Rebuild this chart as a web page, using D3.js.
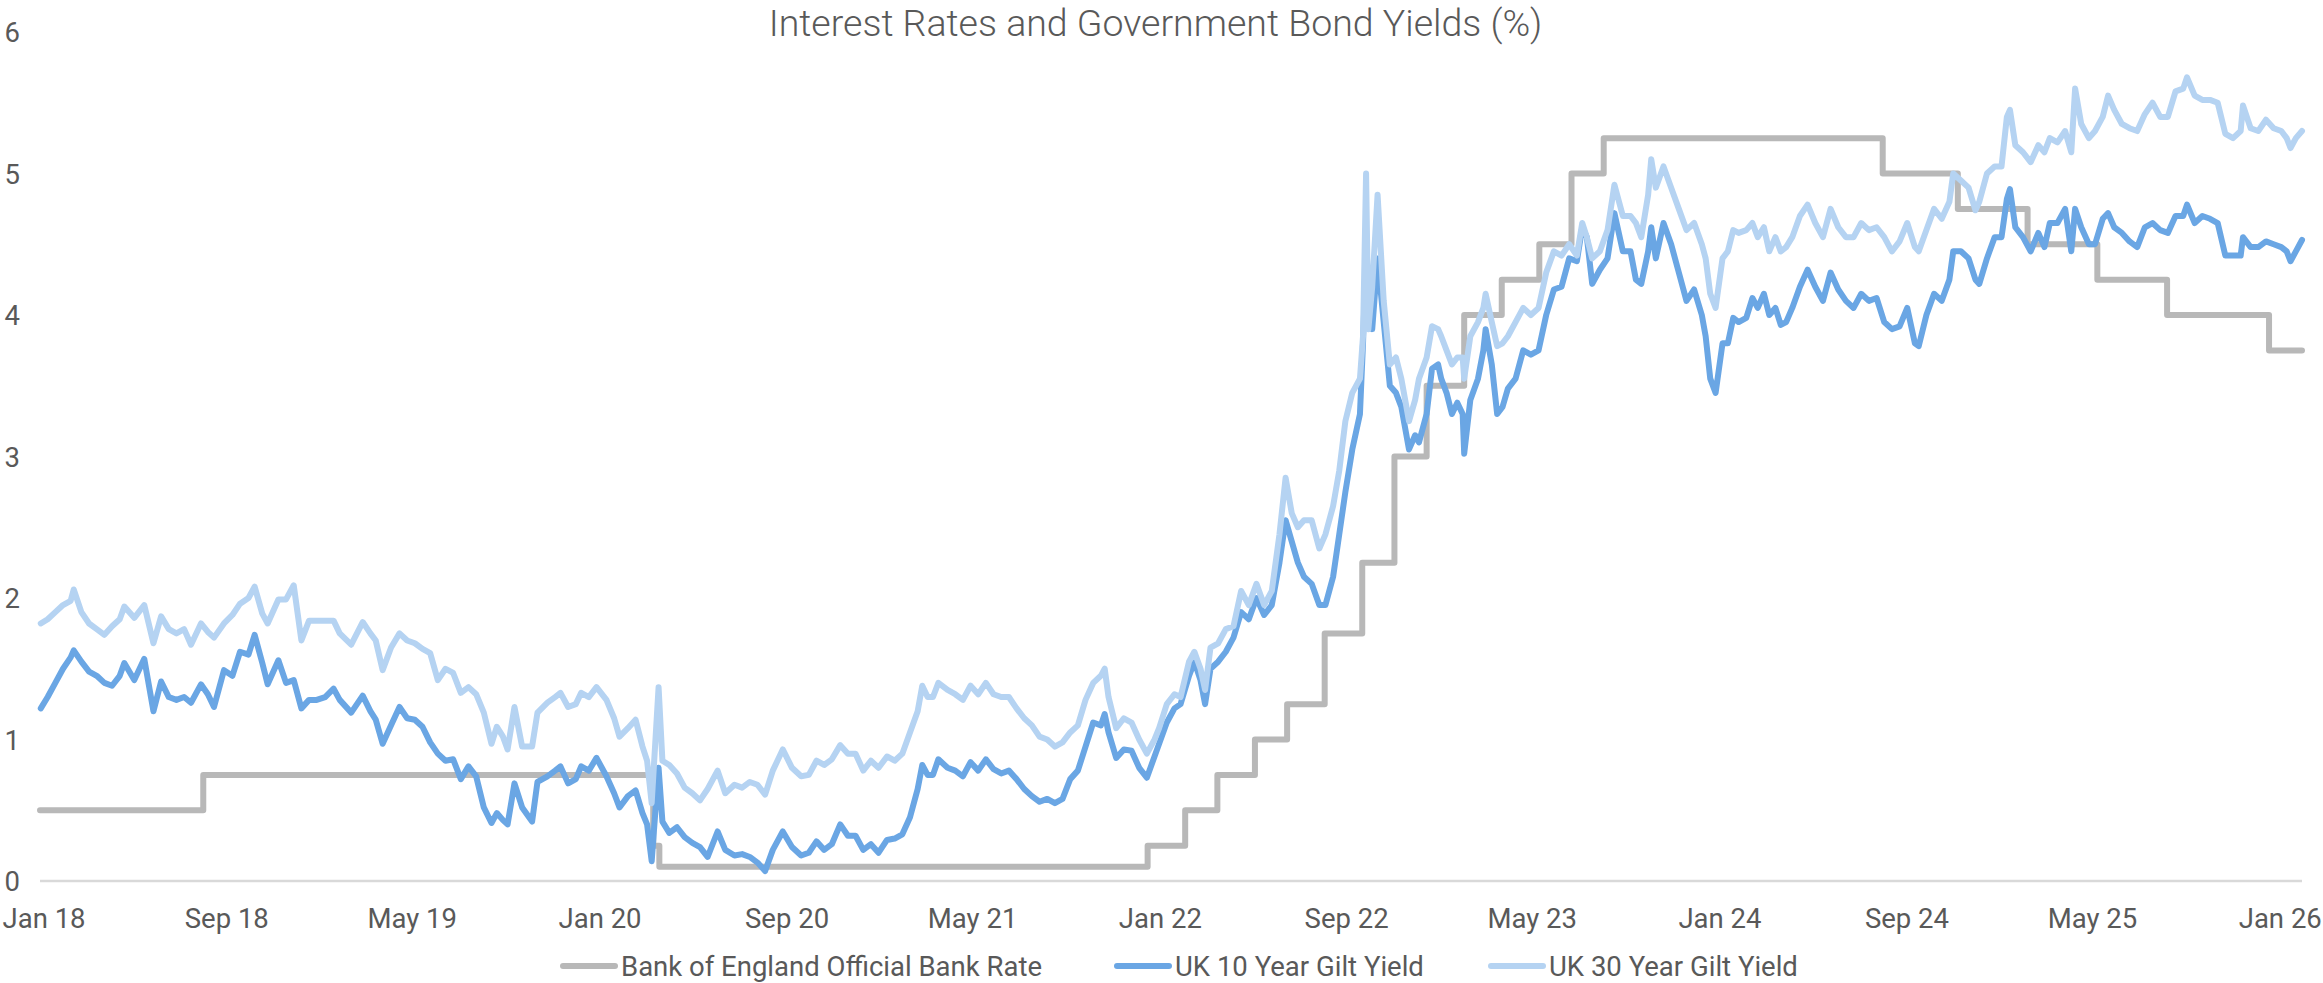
<!DOCTYPE html>
<html><head><meta charset="utf-8">
<script src="https://cdn.jsdelivr.net/npm/d3@7"></script>
<style>
html,body{margin:0;padding:0;background:#fff;}
svg{display:block;font-family:Roboto,"Liberation Sans",sans-serif;}
</style></head><body>
<svg id="chart" width="2323" height="983"></svg>
<script>
const chartTitle = "Interest Rates and Government Bond Yields (%)";
const seriesNames = ["Bank of England Official Bank Rate", "UK 10 Year Gilt Yield", "UK 30 Year Gilt Yield"];
const seriesColors = ["#b8b8b8", "#6aa6e4", "#b5d3f2"];
const xTickDates = ["2018-01-01","2018-09-01","2019-05-01","2020-01-01","2020-09-01","2021-05-01","2022-01-01","2022-09-01","2023-05-01","2024-01-01","2024-09-01","2025-05-01","2026-01-01"];
const yTicks = [0,1,2,3,4,5,6];

const bankRateDates = ["2018-01-01","2018-08-02","2020-03-11","2020-03-19","2021-12-16","2022-02-03","2022-03-17","2022-05-05","2022-06-16","2022-08-04","2022-09-22","2022-11-03","2022-12-15","2023-02-02","2023-03-23","2023-05-11","2023-06-22","2023-08-03","2024-08-01","2024-11-07","2025-02-06","2025-05-08","2025-08-07","2025-12-18","2026-01-30"];
const bankRateValues = [0.5,0.75,0.25,0.1,0.25,0.5,0.75,1.0,1.25,1.75,2.25,3.0,3.5,4.0,4.25,4.5,5.0,5.25,5.0,4.75,4.5,4.25,4.0,3.75,3.75];

const giltDates = [
"2018-01-02","2018-01-11","2018-01-21","2018-01-31","2018-02-10","2018-02-14","2018-02-24","2018-03-06","2018-03-16","2018-03-26","2018-04-05","2018-04-15","2018-04-21","2018-05-04","2018-05-17","2018-05-29","2018-06-08","2018-06-18","2018-06-28","2018-07-08","2018-07-17","2018-07-30","2018-08-08","2018-08-16","2018-08-29","2018-09-09","2018-09-19","2018-09-30","2018-10-08","2018-10-18","2018-10-25","2018-11-08","2018-11-18","2018-11-28","2018-12-08","2018-12-18","2018-12-28",
"2019-01-08","2019-01-19","2019-01-27","2019-02-11","2019-02-26","2019-03-08","2019-03-15","2019-03-24","2019-04-04","2019-04-15","2019-04-25","2019-05-05","2019-05-15","2019-05-25","2019-06-04","2019-06-14","2019-06-24","2019-07-04","2019-07-14","2019-07-24","2019-08-03","2019-08-13","2019-08-20","2019-08-28","2019-09-03","2019-09-12","2019-09-22","2019-10-05","2019-10-12","2019-10-25","2019-11-04","2019-11-11","2019-11-21","2019-12-01","2019-12-08","2019-12-18","2019-12-28",
"2020-01-10","2020-01-20","2020-01-27","2020-02-07","2020-02-17","2020-02-26","2020-03-03","2020-03-09","2020-03-18","2020-03-23","2020-04-01","2020-04-11","2020-04-21","2020-05-01","2020-05-11","2020-05-21","2020-06-03","2020-06-13","2020-06-25","2020-07-05","2020-07-15","2020-07-25","2020-08-04","2020-08-14","2020-08-27","2020-09-08","2020-09-20","2020-09-30","2020-10-10","2020-10-20","2020-10-30","2020-11-10","2020-11-20","2020-11-30","2020-12-10","2020-12-20","2020-12-30",
"2021-01-10","2021-01-20","2021-01-30","2021-02-09","2021-02-19","2021-02-25","2021-03-04","2021-03-11","2021-03-18","2021-03-30","2021-04-09","2021-04-19","2021-04-29","2021-05-09","2021-05-19","2021-05-29","2021-06-08","2021-06-18","2021-06-28","2021-07-08","2021-07-18","2021-07-28","2021-08-07","2021-08-17","2021-08-27","2021-09-06","2021-09-16","2021-09-26","2021-10-06","2021-10-16","2021-10-21","2021-10-26","2021-11-05","2021-11-15","2021-11-25","2021-12-05","2021-12-15","2021-12-25","2021-12-31",
"2022-01-10","2022-01-20","2022-01-28","2022-02-08","2022-02-15","2022-02-23","2022-03-01","2022-03-08","2022-03-18","2022-03-28","2022-04-07","2022-04-17","2022-04-27","2022-05-07","2022-05-17","2022-05-27","2022-06-06","2022-06-14","2022-06-22","2022-06-30","2022-07-08","2022-07-18","2022-07-28","2022-08-05","2022-08-15","2022-08-23","2022-08-31","2022-09-09","2022-09-19","2022-09-23","2022-09-27","2022-09-30","2022-10-05","2022-10-12","2022-10-20","2022-10-28","2022-11-05","2022-11-12","2022-11-22","2022-11-30","2022-12-05","2022-12-15","2022-12-22","2022-12-30",
"2023-01-03","2023-01-10","2023-01-17","2023-01-24","2023-01-31","2023-02-02","2023-02-10","2023-02-20","2023-02-27","2023-03-02","2023-03-10","2023-03-17","2023-03-24","2023-03-31","2023-04-10","2023-04-20","2023-04-30","2023-05-10","2023-05-20","2023-05-30","2023-06-09","2023-06-19","2023-06-29","2023-07-06","2023-07-12","2023-07-19","2023-07-29","2023-08-08","2023-08-17","2023-08-28","2023-09-07","2023-09-14","2023-09-21","2023-09-30","2023-10-04","2023-10-10","2023-10-20","2023-10-30","2023-11-09","2023-11-19","2023-11-29","2023-12-09","2023-12-14","2023-12-20","2023-12-27",
"2024-01-05","2024-01-12","2024-01-19","2024-01-26","2024-02-05","2024-02-13","2024-02-20","2024-02-28","2024-03-06","2024-03-14","2024-03-21","2024-03-28","2024-04-05","2024-04-15","2024-04-25","2024-05-05","2024-05-15","2024-05-25","2024-06-04","2024-06-14","2024-06-24","2024-07-04","2024-07-14","2024-07-24","2024-08-03","2024-08-13","2024-08-23","2024-09-02","2024-09-12","2024-09-17","2024-09-27","2024-10-07","2024-10-17","2024-10-27","2024-11-01","2024-11-11","2024-11-21","2024-11-30","2024-12-05","2024-12-15","2024-12-25",
"2025-01-03","2025-01-10","2025-01-14","2025-01-21","2025-01-31","2025-02-10","2025-02-20","2025-02-28","2025-03-07","2025-03-17","2025-03-27","2025-04-04","2025-04-09","2025-04-17","2025-04-27","2025-05-05","2025-05-15","2025-05-22","2025-05-30","2025-06-09","2025-06-19","2025-06-29","2025-07-09","2025-07-19","2025-07-29","2025-08-08","2025-08-18","2025-08-28","2025-09-02","2025-09-12","2025-09-22","2025-10-02","2025-10-12","2025-10-22","2025-11-01","2025-11-11","2025-11-14","2025-11-24","2025-12-04","2025-12-14","2025-12-24","2026-01-03","2026-01-10","2026-01-15","2026-01-22","2026-01-30"
];

const gilt10 = [
1.22,1.30,1.40,1.50,1.58,1.63,1.55,1.48,1.45,1.40,1.38,1.45,1.54,1.42,1.57,1.20,1.41,1.30,1.28,1.30,1.26,1.39,1.32,1.23,1.49,1.45,1.62,1.60,1.74,1.54,1.39,1.56,1.40,1.42,1.22,1.28,1.28,
1.30,1.36,1.28,1.19,1.31,1.20,1.14,0.97,1.10,1.23,1.15,1.14,1.09,0.98,0.90,0.85,0.86,0.72,0.81,0.74,0.52,0.41,0.48,0.43,0.40,0.69,0.52,0.42,0.70,0.74,0.78,0.81,0.69,0.72,0.81,0.78,0.87,
0.74,0.62,0.52,0.60,0.64,0.48,0.40,0.14,0.80,0.42,0.34,0.38,0.31,0.27,0.24,0.17,0.35,0.22,0.18,0.19,0.17,0.13,0.07,0.22,0.35,0.24,0.18,0.20,0.28,0.22,0.26,0.40,0.32,0.32,0.22,0.26,0.20,
0.29,0.30,0.33,0.45,0.65,0.82,0.75,0.75,0.86,0.80,0.78,0.74,0.84,0.78,0.86,0.79,0.76,0.78,0.72,0.65,0.60,0.56,0.58,0.55,0.58,0.72,0.78,0.95,1.12,1.10,1.18,1.05,0.87,0.93,0.92,0.80,0.73,0.88,0.97,
1.12,1.22,1.25,1.45,1.55,1.42,1.25,1.50,1.55,1.62,1.72,1.90,1.85,2.00,1.88,1.95,2.25,2.55,2.40,2.25,2.15,2.10,1.95,1.95,2.15,2.45,2.75,3.05,3.30,3.80,4.45,4.10,3.90,4.40,3.95,3.50,3.45,3.35,3.05,3.15,3.10,3.30,3.62,3.65,
3.55,3.45,3.30,3.38,3.30,3.02,3.40,3.55,3.75,3.90,3.65,3.30,3.35,3.48,3.55,3.75,3.72,3.75,4.00,4.18,4.20,4.40,4.38,4.62,4.55,4.22,4.32,4.40,4.72,4.45,4.45,4.25,4.22,4.45,4.62,4.40,4.65,4.50,4.30,4.10,4.18,4.00,3.85,3.55,3.45,
3.80,3.80,3.98,3.95,3.98,4.12,4.05,4.15,4.00,4.05,3.93,3.95,4.05,4.20,4.32,4.20,4.10,4.30,4.18,4.10,4.05,4.15,4.10,4.12,3.95,3.90,3.92,4.05,3.80,3.78,4.00,4.15,4.10,4.25,4.45,4.45,4.40,4.25,4.22,4.40,4.55,
4.55,4.82,4.89,4.62,4.55,4.45,4.58,4.48,4.65,4.65,4.75,4.45,4.75,4.62,4.50,4.50,4.68,4.72,4.62,4.58,4.52,4.48,4.62,4.65,4.60,4.58,4.70,4.70,4.78,4.65,4.70,4.68,4.65,4.42,4.42,4.42,4.55,4.48,4.48,4.52,4.50,4.48,4.45,4.38,4.45,4.53
];

const gilt30 = [
1.82,1.85,1.90,1.95,1.98,2.06,1.90,1.82,1.78,1.74,1.80,1.85,1.94,1.86,1.95,1.68,1.87,1.78,1.75,1.78,1.67,1.82,1.76,1.72,1.82,1.88,1.96,2.00,2.08,1.89,1.82,1.99,1.99,2.09,1.70,1.84,1.84,
1.84,1.84,1.75,1.67,1.83,1.75,1.70,1.49,1.65,1.75,1.70,1.68,1.64,1.61,1.42,1.50,1.47,1.33,1.37,1.32,1.19,0.97,1.09,1.02,0.93,1.23,0.95,0.95,1.19,1.26,1.30,1.33,1.23,1.25,1.33,1.30,1.37,
1.28,1.15,1.02,1.08,1.14,0.95,0.85,0.55,1.37,0.85,0.82,0.76,0.66,0.62,0.57,0.65,0.78,0.62,0.68,0.66,0.70,0.68,0.61,0.78,0.93,0.80,0.74,0.75,0.85,0.82,0.86,0.96,0.90,0.90,0.78,0.85,0.80,
0.88,0.85,0.90,1.05,1.20,1.38,1.30,1.30,1.40,1.35,1.32,1.28,1.38,1.32,1.40,1.32,1.30,1.30,1.22,1.15,1.10,1.02,1.00,0.95,0.98,1.05,1.10,1.28,1.40,1.45,1.50,1.30,1.08,1.15,1.12,1.00,0.90,1.00,1.08,
1.25,1.32,1.30,1.55,1.62,1.50,1.35,1.65,1.68,1.78,1.80,2.05,1.95,2.10,1.95,2.05,2.45,2.85,2.60,2.50,2.55,2.55,2.35,2.45,2.65,2.90,3.25,3.45,3.55,3.85,5.00,3.90,4.20,4.85,4.10,3.65,3.70,3.55,3.25,3.40,3.55,3.70,3.92,3.90,
3.85,3.75,3.65,3.70,3.70,3.55,3.85,3.95,4.05,4.15,3.95,3.78,3.80,3.85,3.95,4.05,4.00,4.05,4.30,4.45,4.42,4.50,4.42,4.65,4.55,4.40,4.45,4.60,4.92,4.70,4.70,4.65,4.55,4.85,5.10,4.90,5.05,4.90,4.75,4.60,4.65,4.50,4.40,4.15,4.05,
4.40,4.45,4.60,4.58,4.60,4.65,4.55,4.62,4.45,4.55,4.45,4.48,4.55,4.70,4.78,4.65,4.55,4.75,4.62,4.55,4.55,4.65,4.60,4.62,4.55,4.45,4.52,4.65,4.48,4.45,4.60,4.75,4.68,4.80,5.00,4.95,4.90,4.74,4.80,5.00,5.05,
5.05,5.40,5.45,5.20,5.15,5.08,5.20,5.15,5.25,5.22,5.30,5.15,5.60,5.35,5.25,5.30,5.40,5.55,5.45,5.35,5.32,5.30,5.42,5.50,5.40,5.40,5.58,5.60,5.68,5.55,5.52,5.52,5.50,5.28,5.25,5.30,5.48,5.32,5.30,5.38,5.32,5.30,5.25,5.18,5.25,5.30
];

const parse = d3.utcParse("%Y-%m-%d");
const svg = d3.select("#chart");
const W = 2323, H = 983;
const plot = {left: 40, right: 2302, top: 32, bottom: 881};

const x = d3.scaleUtc()
  .domain([parse("2018-01-01"), parse("2026-01-30")])
  .range([plot.left, plot.right]);
const y = d3.scaleLinear().domain([0, 6]).range([plot.bottom, plot.top]);

const textColor = "#595959";
const labelSize = 27.5;

// title
svg.append("text")
  .attr("x", W / 2 - 6).attr("y", 36)
  .attr("text-anchor", "middle")
  .attr("font-size", 37.5).attr("font-weight", 300)
  .attr("fill", textColor)
  .text(chartTitle);

// zero gridline
svg.append("line")
  .attr("x1", x.range()[0]).attr("x2", x.range()[1])
  .attr("y1", y(0)).attr("y2", y(0))
  .attr("stroke", "#d9d9d9").attr("stroke-width", 2.5);

// y axis
const yAxis = svg.append("g")
  .attr("transform", `translate(20,0)`)
  .call(d3.axisLeft(y).tickValues(yTicks).tickSize(0).tickPadding(0).tickFormat(d3.format("d")));
yAxis.select(".domain").remove();
yAxis.selectAll("text")
  .attr("font-family", "Roboto, 'Liberation Sans', sans-serif")
  .attr("font-size", labelSize).attr("fill", textColor).attr("dy", "0.35em");

// x axis
const xAxis = svg.append("g")
  .attr("transform", `translate(0,${plot.bottom})`)
  .call(d3.axisBottom(x).tickValues(xTickDates.map(parse)).tickSize(0).tickPadding(0)
        .tickFormat(d3.utcFormat("%b %y")));
xAxis.select(".domain").remove();
xAxis.selectAll("text")
  .attr("font-family", "Roboto, 'Liberation Sans', sans-serif")
  .attr("font-size", labelSize).attr("fill", textColor)
  .attr("dy", null).attr("y", 47);
// keep the first label inside the left edge
xAxis.selectAll(".tick").filter((d, i) => i === 0).select("text")
  .attr("text-anchor", "start").attr("x", 2 - plot.left);

// lines
const bankData = bankRateDates.map((d, i) => ({date: parse(d), value: bankRateValues[i]}));
const g10 = giltDates.map((d, i) => ({date: parse(d), value: gilt10[i]}));
const g30 = giltDates.map((d, i) => ({date: parse(d), value: gilt30[i]}));

const stepLine = d3.line().x(d => x(d.date)).y(d => y(d.value)).curve(d3.curveStepAfter);
const line = d3.line().x(d => x(d.date)).y(d => y(d.value)).curve(d3.curveLinear);

const lw = 6;
svg.append("path").datum(bankData).attr("d", stepLine)
  .attr("fill", "none").attr("stroke", seriesColors[0]).attr("stroke-width", lw)
  .attr("stroke-linejoin", "round").attr("stroke-linecap", "round");
svg.append("path").datum(g10).attr("d", line)
  .attr("fill", "none").attr("stroke", seriesColors[1]).attr("stroke-width", lw)
  .attr("stroke-linejoin", "round").attr("stroke-linecap", "round");
svg.append("path").datum(g30).attr("d", line)
  .attr("fill", "none").attr("stroke", seriesColors[2]).attr("stroke-width", lw)
  .attr("stroke-linejoin", "round").attr("stroke-linecap", "round");

// legend
const legendX = [563, 1117, 1491];
const ly = 966;
const legend = svg.append("g");
seriesNames.forEach((name, i) => {
  legend.append("line")
    .attr("x1", legendX[i]).attr("x2", legendX[i] + 52).attr("y1", ly).attr("y2", ly)
    .attr("stroke", seriesColors[i]).attr("stroke-width", lw).attr("stroke-linecap", "round");
  legend.append("text")
    .attr("x", legendX[i] + 58).attr("y", ly + 10)
    .attr("font-size", labelSize).attr("fill", textColor)
    .text(name);
});
</script>
</body></html>
